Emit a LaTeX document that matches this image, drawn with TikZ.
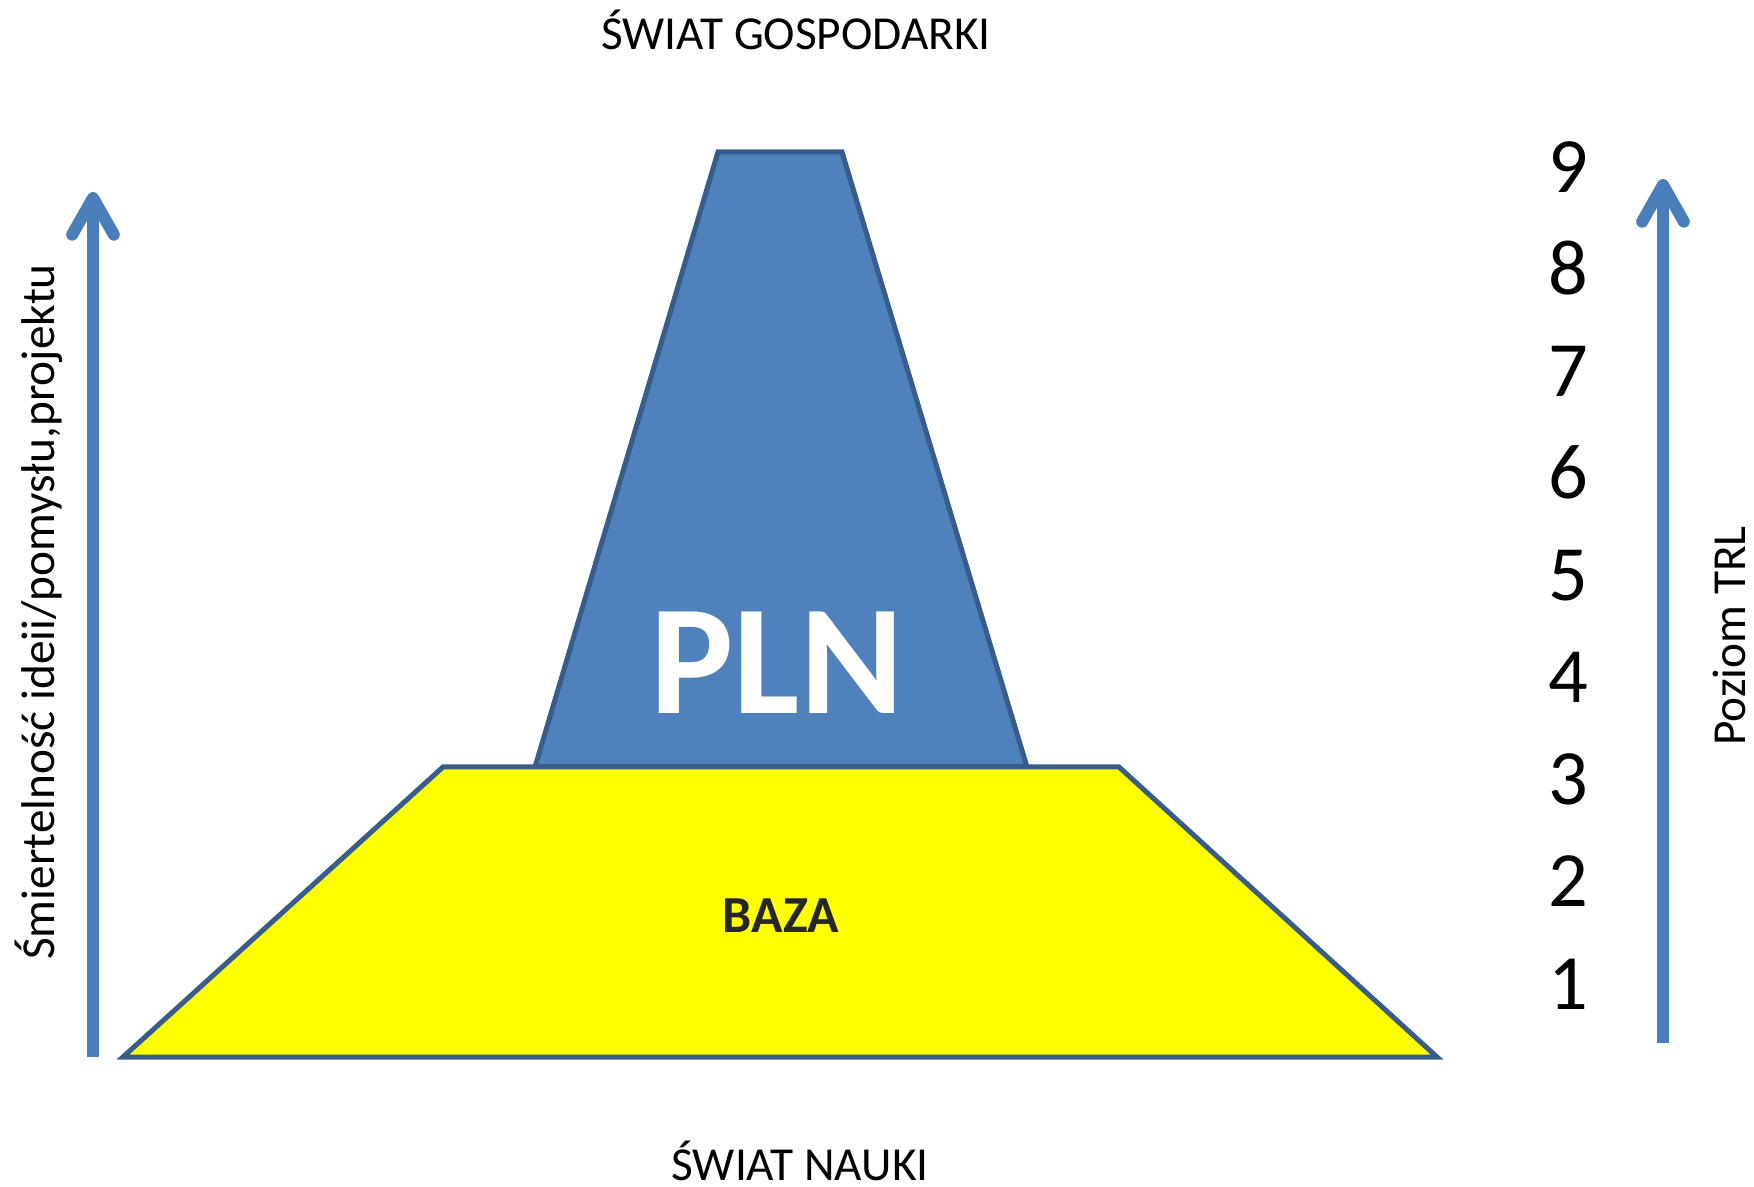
\documentclass[tikz,border=0pt]{standalone}
\usepackage{fontspec}
\setmainfont{Carlito}
\usetikzlibrary{arrows.meta,positioning}
\definecolor{PLNBlue}{RGB}{79,129,189}
\definecolor{PLNEdge}{RGB}{56,93,138}
\definecolor{AxisBlue}{RGB}{74,126,187}
\definecolor{BazaYellow}{RGB}{255,255,0}

\begin{document}
\begin{tikzpicture}[x=0.3pt,y=-0.3pt,
  axis/.style={AxisBlue,line width=3.6pt,-{Straight Barb[length=11pt,width=12.5pt,round]}},
  block/.style={draw=PLNEdge,line width=1.5pt,line join=miter},
  lab/.style={font=\fontsize{14.2}{16}\selectfont,inner sep=0pt,anchor=base},
  trl/.style={font=\fontsize{23.5}{26}\selectfont,inner sep=0pt,anchor=base}]
\useasboundingbox (0,0) rectangle (1754,1187);

% blocks
\draw[block,fill=PLNBlue] (535,767) -- (718,152) -- (842,152) -- (1027,767) -- cycle;
\draw[block,fill=BazaYellow] (123,1057) -- (443,767) -- (1119,767) -- (1437,1057) -- cycle;
\node[inner sep=0pt,anchor=base,text=white,font=\fontsize{47}{50}\selectfont\bfseries] (pln) at (777,714) {PLN};
\node[inner sep=0pt,anchor=base,text=black!85,font=\fontsize{15.6}{18}\selectfont\bfseries] (baza) at (781,932) {BAZA};

% titles
\node[lab] (gosp) at (796,50) {ŚWIAT GOSPODARKI};
\node[lab] (nauka) at (800,1180) {ŚWIAT NAUKI};

% left axis
\coordinate (lb) at (93,1057);
\coordinate (lt) at (93,192);
\draw[axis] (lb) -- (lt);
\node[lab,rotate=90] (smiert) at (54,612) {Śmiertelność ideii/pomysłu,projektu};

% right axis
\coordinate (rb) at (1663,1043);
\coordinate (rt) at (1663,179);
\draw[axis] (rb) -- (rt);
\node[lab,rotate=90] (poziom) at (1745,636) {Poziom TRL};
\foreach \n in {1,...,9}
  \node[trl] (trl\n) at (1568,{1009-(\n-1)*102.1}) {\n};
\end{tikzpicture}
\end{document}
